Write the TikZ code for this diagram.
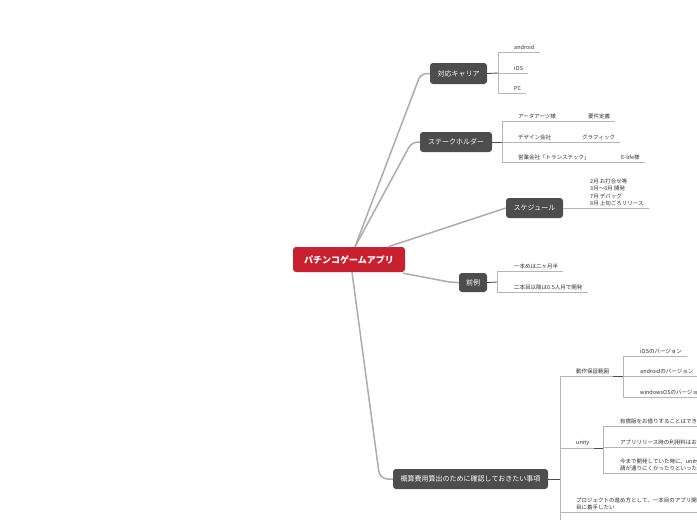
\documentclass[tikz,border=0pt]{standalone}
\usepackage{fontspec}
\setmainfont{Noto Sans CJK JP}
\usetikzlibrary{calc}
\definecolor{rootred}{RGB}{200,32,46}
\definecolor{topic}{RGB}{77,77,77}
\definecolor{conn}{RGB}{172,172,172}
\definecolor{sline}{RGB}{182,182,182}
\definecolor{leaftext}{RGB}{45,45,45}
\begin{document}
\begin{tikzpicture}[x=1pt,y=-1pt,
  rootbox/.style={fill=rootred, rounded corners=3pt, text=white, font=\fontsize{9}{10}\selectfont\bfseries, minimum width=112pt, minimum height=25pt, inner sep=0pt},
  topicbox/.style={fill=topic, rounded corners=3pt, text=white, font=\fontsize{7}{8}\selectfont, minimum height=20pt, inner sep=0pt},
  leaf/.style={anchor=south west, inner xsep=0pt, inner ysep=1.8pt, text=leaftext, font=\fontsize{5.5}{7.3}\selectfont, align=left},
  mainline/.style={draw=conn, line width=1.5pt, rounded corners=6pt},
  subline/.style={draw=sline, line width=0.8pt},
  linkline/.style={draw=topic, line width=0.9pt},
]
\useasboundingbox (0,0) rectangle (697,520);
\clip (0,0) rectangle (697,520);

% main topics
\node[rootbox] (root) at (349,259.5) {パチンコゲームアプリ};
\node[topicbox, minimum width=57pt, minimum height=21pt] (carrier) at (458.5,73.5) {対応キャリア};
\node[topicbox, minimum width=72pt] (stake) at (456,142) {ステークホルダー};
\node[topicbox, minimum width=57pt] (sched) at (534.5,208) {スケジュール};
\node[topicbox, minimum width=28pt, minimum height=19pt] (prec) at (473,282.5) {前例};
\node[topicbox, minimum width=155pt] (est) at (470.5,479) {概算費用算出のために確認しておきたい事項};

% main connectors
\draw[mainline] ([xshift=6pt]root.north) -- ($(carrier.west)+(-9,0)$) -- (carrier.west);
\draw[mainline] ([xshift=6pt]root.north) -- ($(stake.west)+(-8,0)$) -- (stake.west);
\draw[mainline] ([xshift=39pt]root.north) -- (sched.west);
\draw[mainline] ($(root.south east)+(-2,1)$) -- ($(prec.west)+(-7,0)$) -- (prec.west);
\draw[mainline, rounded corners=8pt] ([xshift=3pt]root.south) -- ($(est.west)+(-13,0)$) -- (est.west);

% carrier
\coordinate (kc) at (498,73);
\node[leaf] (android) at (514,52) {android};
\node[leaf] (ios) at (514,73) {iOS};
\node[leaf] (pc) at (514,93) {PC};
\draw[linkline] (carrier.east) -- (kc);
\draw[subline] (android.south -| kc) -- (pc.south -| kc);
\foreach \n in {android,ios,pc} \draw[subline] (\n.south -| kc) -- ([xshift=5pt]\n.south east);

% stakeholders
\coordinate (ks) at (502,142);
\node[leaf] (atar) at (518,121) {アータアーツ様};
\node[leaf] (req) at (588,121) {要件定義};
\node[leaf] (design) at (518,142) {デザイン会社};
\node[leaf] (graph) at (582,142) {グラフィック};
\node[leaf] (sales) at (518,162) {営業会社「トランステック」};
\node[leaf] (elife) at (621,162) {E-life様};
\draw[linkline] (stake.east) -- (ks);
\draw[subline] (atar.south -| ks) -- (sales.south -| ks);
\draw[subline] (atar.south -| ks) -- ([xshift=5pt]req.south east);
\draw[subline] (design.south -| ks) -- ([xshift=5pt]graph.south east);
\draw[subline] (sales.south -| ks) -- ([xshift=5pt]elife.south east);

% schedule
\node[leaf] (plan) at (590,208) {2月 お打合せ等\\3月～6月 開発\\7月 デバッグ\\8月 上旬ごろリリース};
\draw[subline] (sched.east) -- ([xshift=5pt]plan.south east);

% precedent
\coordinate (kp) at (497,282);
\node[leaf] (first) at (514,271) {一本めは二ヶ月半};
\node[leaf] (second) at (514,292) {二本目以降は0.5人月で開発};
\draw[linkline] (prec.east) -- (kp);
\draw[subline] (first.south -| kp) -- (second.south -| kp);
\foreach \n in {first,second} \draw[subline] (\n.south -| kp) -- ([xshift=5pt]\n.south east);

% estimate
\coordinate (ke) at (560,479);
\node[leaf] (scope) at (576,376) {動作保証範囲};
\node[leaf] (unity) at (576,448) {unity};
\node[leaf] (proj) at (576,512) {プロジェクトの進め方として、一本目のアプリ開発\\目に着手したい};
\draw[linkline] (est.east) -- (ke);
\draw[subline] (scope.south -| ke) -- ($(proj.south -| ke)+(0,20)$);
\foreach \n in {scope,unity} \draw[subline] (\n.south -| ke) -- ([xshift=4pt]\n.south east);
\draw[subline] (proj.south -| ke) -- ([xshift=5pt]proj.south east);

% scope children
\coordinate (kv) at (623,376);
\node[leaf] (iosv) at (640,356) {iOSのバージョン};
\node[leaf] (andv) at (640,376) {androidのバージョン};
\node[leaf] (winv) at (640,397) {windowsOSのバージョン};
\draw[linkline] ([xshift=4pt]scope.south east) -- (kv);
\draw[subline] (iosv.south -| kv) -- (winv.south -| kv);
\foreach \n in {iosv,andv,winv} \draw[subline] (\n.south -| kv) -- ([xshift=5pt]\n.south east);

% unity children
\coordinate (ku) at (603,448);
\node[leaf] (paid) at (620,426) {有償版をお借りすることはできますか};
\node[leaf] (fee) at (620,447) {アプリリリース時の利用料はおいくらか};
\node[leaf] (past) at (620,473) {今まで開発していた時に、unity\\請が通りにくかったりといった};
\draw[linkline] ([xshift=4pt]unity.south east) -- (ku);
\draw[subline] (paid.south -| ku) -- (past.south -| ku);
\foreach \n in {paid,fee,past} \draw[subline] (\n.south -| ku) -- ([xshift=5pt]\n.south east);
\end{tikzpicture}
\end{document}
